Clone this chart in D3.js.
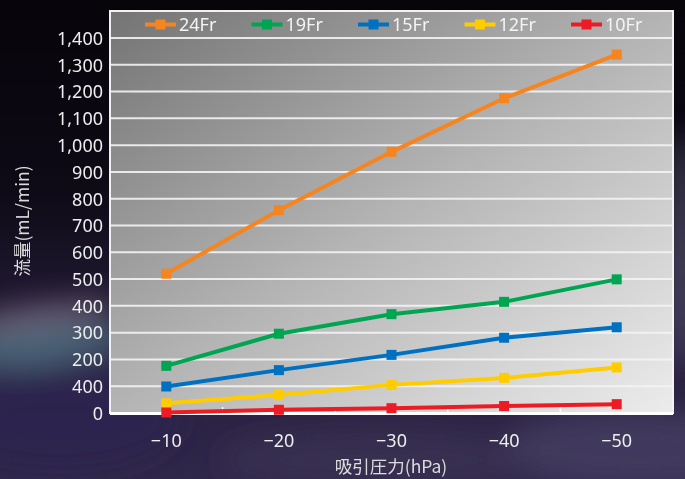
<!DOCTYPE html>
<html><head><meta charset="utf-8">
<script src="https://cdn.jsdelivr.net/npm/d3@7"></script>
<style>
html,body{margin:0;padding:0;background:#0a0710;}
svg{display:block;}
</style></head>
<body>
<div id="chart"></div>
<script>
const categories = ["−10","−20","−30","−40","−50"];
const seriesNames = ["24Fr","19Fr","15Fr","12Fr","10Fr"];
const seriesColors = ["#f6851f","#00a551","#0070c0","#ffcc00","#ed1c24"];
const v24 = [520, 757, 975, 1175, 1338];
const v19 = [176, 296, 369, 415, 499];
const v15 = [99, 160, 217, 281, 320];
const v12 = [36, 67, 105, 131, 170];
const v10 = [2, 12, 18, 26, 33];
const yTickValues = [0,100,200,300,400,500,600,700,800,900,1000,1100,1200,1300,1400];
const yTickLabels = ["0","400","200","300","400","500","600","700","800","900","1,000","1,100","1,200","1,300","1,400"];
const yTitle = "流量(mL/min)";
const xTitle = "吸引圧力(hPa)";

const W = 685, H = 479;
const L = 110, R = 673, T = 11, B = 413;
const svg = d3.select("#chart").append("svg").attr("width", W).attr("height", H);
const defs = svg.append("defs");

// background
const bg = defs.append("linearGradient").attr("id","bg").attr("x1",0).attr("y1",0).attr("x2",0).attr("y2",1);
bg.append("stop").attr("offset","0%").attr("stop-color","#07040a");
bg.append("stop").attr("offset","40%").attr("stop-color","#0e0a16");
bg.append("stop").attr("offset","75%").attr("stop-color","#2a2140");
bg.append("stop").attr("offset","100%").attr("stop-color","#30284a");
svg.append("rect").attr("width",W).attr("height",H).attr("fill","url(#bg)");
const blur = defs.append("filter").attr("id","blur").attr("x","-50%").attr("y","-50%").attr("width","200%").attr("height","200%");
blur.append("feGaussianBlur").attr("stdDeviation",14);
const glow = svg.append("g").attr("filter","url(#blur)");
glow.append("ellipse").attr("cx",40).attr("cy",345).attr("rx",90).attr("ry",22).attr("fill","#4f6f80").attr("opacity",0.85).attr("transform","rotate(-6,40,345)");
glow.append("ellipse").attr("cx",40).attr("cy",315).attr("rx",80).attr("ry",12).attr("fill","#8a7a90").attr("opacity",0.6).attr("transform","rotate(-8,40,315)");
glow.append("ellipse").attr("cx",60).attr("cy",420).attr("rx",120).attr("ry",50).attr("fill","#2c2450").attr("opacity",0.9);
glow.append("ellipse").attr("cx",682).attr("cy",250).attr("rx",10).attr("ry",120).attr("fill","#6a6a88").attr("opacity",0.8);
glow.append("ellipse").attr("cx",640).attr("cy",450).attr("rx",140).attr("ry",40).attr("fill","#463d62").attr("opacity",0.8);
glow.append("ellipse").attr("cx",380).attr("cy",460).attr("rx",160).attr("ry",30).attr("fill","#3d3556").attr("opacity",0.7);

// plot area
const pg = defs.append("linearGradient").attr("id","pg").attr("x1",0).attr("y1",0).attr("x2",1).attr("y2",1);
pg.append("stop").attr("offset","0%").attr("stop-color","#747474");
pg.append("stop").attr("offset","50%").attr("stop-color","#b4b4b4");
pg.append("stop").attr("offset","100%").attr("stop-color","#ececec");
svg.append("rect").attr("x",L).attr("y",T).attr("width",R-L).attr("height",B-T).attr("fill","url(#pg)")
  .attr("stroke","#f2f2f2").attr("stroke-width",2);

const x = d3.scaleBand().domain(categories).range([L, R]);
const y = d3.scaleLinear().domain([0, 1400]).range([B, 38]);

// grid
svg.append("g").selectAll("line").data(yTickValues.filter(d=>d>0)).join("line")
  .attr("x1",L).attr("x2",R).attr("y1",d=>y(d)).attr("y2",d=>y(d))
  .attr("stroke","#f4f4f4").attr("stroke-width",2).attr("opacity",0.9);

// bottom frame and small ticks
svg.append("line").attr("x1",L).attr("x2",R).attr("y1",B+0.5).attr("y2",B+0.5).attr("stroke","#ffffff").attr("stroke-width",3);
svg.append("g").selectAll("line").data(categories.slice(1)).join("line")
  .attr("x1",d=>x(d)).attr("x2",d=>x(d)).attr("y1",B).attr("y2",B-6)
  .attr("stroke","#ffffff").attr("stroke-width",1.5);

// y axis
const yAxis = d3.axisLeft(y).tickValues(yTickValues).tickSize(0).tickPadding(0)
  .tickFormat((d,i)=>yTickLabels[i]);
const gy = svg.append("g").attr("transform",`translate(${L-7},0)`).call(yAxis);
gy.select(".domain").remove();
gy.selectAll("text").attr("fill","#eeeeee").attr("font-family","'Noto Sans', sans-serif").attr("font-size",18).attr("dy","0.35em");

// x axis
const xAxis = d3.axisBottom(x).tickSize(0).tickPadding(0);
const gx = svg.append("g").attr("transform",`translate(0,${441})`).call(xAxis);
gx.select(".domain").remove();
gx.selectAll("text").attr("fill","#eeeeee").attr("font-family","'Noto Sans', sans-serif").attr("font-size",18).attr("dy","0.35em");

// titles
svg.append("text").attr("transform","translate(23,221) rotate(-90)").attr("text-anchor","middle").attr("dy","0.35em")
  .attr("fill","#dcdcdc").attr("font-family","'Noto Sans CJK JP', 'Noto Sans', sans-serif").attr("font-size",17.5).text(yTitle);
svg.append("text").attr("x",391).attr("y",467).attr("text-anchor","middle").attr("dy","0.35em")
  .attr("fill","#dcdcdc").attr("font-family","'Noto Sans CJK JP', 'Noto Sans', sans-serif").attr("font-size",17.5).text(xTitle);

// series
const allSeries = [v24, v19, v15, v12, v10];
const line = d3.line().x((d,i)=>x(categories[i]) + x.bandwidth()/2).y(d=>y(d));
allSeries.forEach((vals, si) => {
  const g = svg.append("g");
  g.append("path").datum(vals).attr("d", line).attr("fill","none")
    .attr("stroke", seriesColors[si]).attr("stroke-width",4).attr("stroke-linejoin","round");
  g.selectAll("rect").data(vals).join("rect")
    .attr("x",(d,i)=>x(categories[i]) + x.bandwidth()/2 - 5)
    .attr("y",d=>y(d)-5).attr("width",10).attr("height",10)
    .attr("fill", seriesColors[si]);
});

// legend
const lg = svg.append("g");
seriesNames.forEach((name, i) => {
  const lx = 145 + i*106.5, ly = 24.5;
  lg.append("line").attr("x1",lx).attr("x2",lx+31).attr("y1",ly).attr("y2",ly)
    .attr("stroke",seriesColors[i]).attr("stroke-width",4);
  lg.append("rect").attr("x",lx+15.5-5).attr("y",ly-5).attr("width",10).attr("height",10).attr("fill",seriesColors[i]);
  lg.append("text").attr("x",lx+34).attr("y",ly).attr("dy","0.35em")
    .attr("fill","#f4f4f4").attr("font-family","'Noto Sans', sans-serif").attr("font-size",18).text(name);
});
</script>
</body></html>
